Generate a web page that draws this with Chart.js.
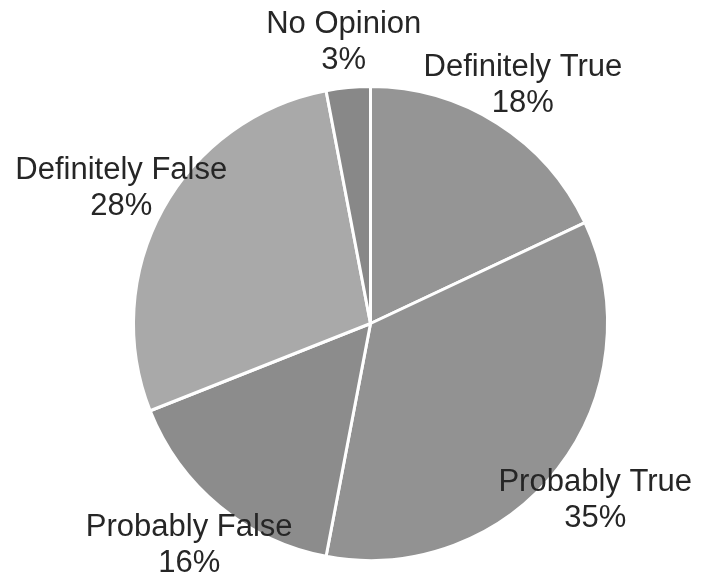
<!DOCTYPE html>
<html>
<head>
<meta charset="utf-8">
<script src="https://cdn.jsdelivr.net/npm/chart.js@4/dist/chart.umd.min.js"></script>
<style>
    html, body { margin: 0; padding: 0; background: #fff; }
    #wrap { width: 710px; height: 575px; position: relative; }
</style>
</head>
<body>
<div id="wrap"><canvas id="pieChart"></canvas></div>
<script>
// Survey answers, clockwise from 12 o'clock
const categories = ['Definitely True', 'Probably True', 'Probably False', 'Definitely False', 'No Opinion'];
const shares = [18, 35, 16, 28, 3];
const sliceColors = ['#959595', '#929292', '#8c8c8c', '#a9a9a9', '#888888'];

// Two-line labels drawn just outside each slice, on its middle angle
const outsideLabels = {
    id: 'outsideLabels',
    afterDatasetsDraw(chart) {
        const ctx = chart.ctx;
        const arcs = chart.getDatasetMeta(0).data;
        ctx.save();
        ctx.font = '31px "Liberation Sans", Arial, sans-serif';
        ctx.fillStyle = '#262626';
        ctx.textAlign = 'center';
        ctx.textBaseline = 'alphabetic';
        arcs.forEach((arc, i) => {
            const p = arc.getProps(['x', 'y', 'startAngle', 'endAngle', 'outerRadius'], true);
            const mid = (p.startAngle + p.endAngle) / 2;
            const r = p.outerRadius * 1.2;
            const lx = p.x + Math.cos(mid) * r;
            const ly = p.y + Math.sin(mid) * r;
            ctx.fillText(categories[i], lx, ly - 7);
            ctx.fillText(shares[i] + '%', lx, ly + 29);
        });
        ctx.restore();
    }
};

new Chart(document.getElementById('pieChart').getContext('2d'), {
    type: 'pie',
    data: {
        labels: categories,
        datasets: [{
            data: shares,
            backgroundColor: sliceColors,
            borderColor: '#ffffff',
            borderWidth: 3
        }]
    },
    options: {
        responsive: true,
        maintainAspectRatio: false,
        animation: false,
        events: [],
        layout: {
            padding: { left: 132, right: 101, top: 85, bottom: 13 }
        },
        plugins: {
            legend: { display: false },
            tooltip: { enabled: false }
        }
    },
    plugins: [outsideLabels]
});
</script>
</body>
</html>
